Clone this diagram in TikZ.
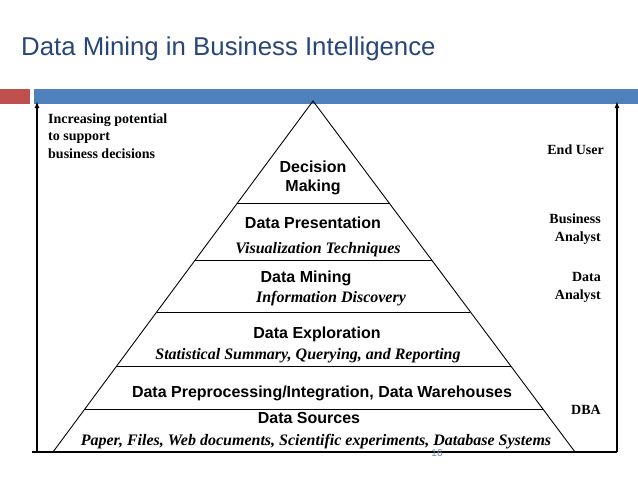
\documentclass[tikz,border=0pt]{standalone}
\usepackage{fontspec}
\setmainfont{Liberation Serif}
\setsansfont{Liberation Sans}
\usetikzlibrary{calc,arrows.meta}
\definecolor{titleblue}{RGB}{40,70,120}
\definecolor{barblue}{RGB}{79,129,189}
\definecolor{barred}{RGB}{192,80,77}
\definecolor{pagegray}{RGB}{110,140,175}
\begin{document}
\begin{tikzpicture}[x=1pt,y=-1pt,
  layer/.style={anchor=base,inner sep=0pt,font=\sffamily\bfseries\fontsize{16}{18}\selectfont},
  method/.style={anchor=base,inner sep=0pt,font=\rmfamily\bfseries\itshape\fontsize{16}{18}\selectfont},
  lefttext/.style={anchor=base west,inner sep=0pt,font=\rmfamily\bfseries\fontsize{14}{16}\selectfont},
  role/.style={anchor=base east,inner sep=0pt,font=\rmfamily\bfseries\fontsize{14}{16}\selectfont},
  divider/.style={line width=0.9pt},
  bigarrow/.style={line width=1.8pt,-{Latex[length=7pt,width=5pt]}}]
\useasboundingbox (0,0) rectangle (638,479);
\fill[white] (0,0) rectangle (638,479);
% title and bars
\node[anchor=base west,inner sep=0pt,text=titleblue,font=\sffamily\fontsize{25.8}{30}\selectfont] (title) at (21,55) {Data Mining in Business Intelligence};
\fill[barred] (0,89) rectangle (30,104);
\fill[barblue] (34,89) rectangle (638,104);
% pyramid
\coordinate (apex) at (313,101);
\coordinate (bl) at (53,452);
\coordinate (br) at (575,452);
\coordinate (baseL) at (32,452);
\coordinate (baseR) at (617,452);
\draw[line width=0.9pt] (bl) -- (apex) -- (br);
\draw[line width=1.5pt] (baseL) -- (baseR);
\foreach \t/\n in {0.2906/a,0.4530/b,0.6011/c,0.7550/d,0.8775/e}{
  \coordinate (L\n) at ($(apex)!\t!(bl)$);
  \coordinate (R\n) at ($(apex)!\t!(br)$);
  \draw[divider] (L\n) -- (R\n);
}
% arrows
\coordinate (lat) at (37,101);
\coordinate (lab) at (37,452);
\coordinate (rat) at (617,101);
\coordinate (rab) at (617,452);
\draw[bigarrow] (lab) -- (lat);
\draw[bigarrow] (rab) -- (rat);
% layer texts
\node[layer] (dm1) at (313,172) {Decision};
\node[layer] (dm2) at (313,191) {Making};
\node[layer] (dp) at (313,228) {Data Presentation};
\node[method] (vt) at (318,253) {Visualization Techniques};
\node[layer] (dmin) at (306,282) {Data Mining};
\node[method] (id) at (331,302) {Information Discovery};
\node[layer] (de) at (317,338) {Data Exploration};
\node[method] (ss) at (308,359) {Statistical Summary, Querying, and Reporting};
\node[layer] (dpi) at (322,397) {Data Preprocessing/Integration, Data Warehouses};
\node[layer] (ds) at (309,423) {Data Sources};
\node[method] (pf) at (316,445) {Paper, Files, Web documents, Scientific experiments, Database Systems};
% left text
\node[lefttext] (inc1) at (48,123) {Increasing potential};
\node[lefttext] (inc2) at (48,140) {to support};
\node[lefttext] (inc3) at (48,158) {business decisions};
% roles
\node[role] (eu) at (604,154) {End User};
\node[role] (ba1) at (601,223) {Business};
\node[role] (ba2) at (601,241) {Analyst};
\node[role] (da1) at (601,281) {Data};
\node[role] (da2) at (601,299) {Analyst};
\node[role] (dba) at (601,414) {DBA};
% page number
\node[anchor=base,inner sep=0pt,text=pagegray,font=\sffamily\fontsize{10}{11}\selectfont] (pg) at (437,456) {16};
\end{tikzpicture}
\end{document}
